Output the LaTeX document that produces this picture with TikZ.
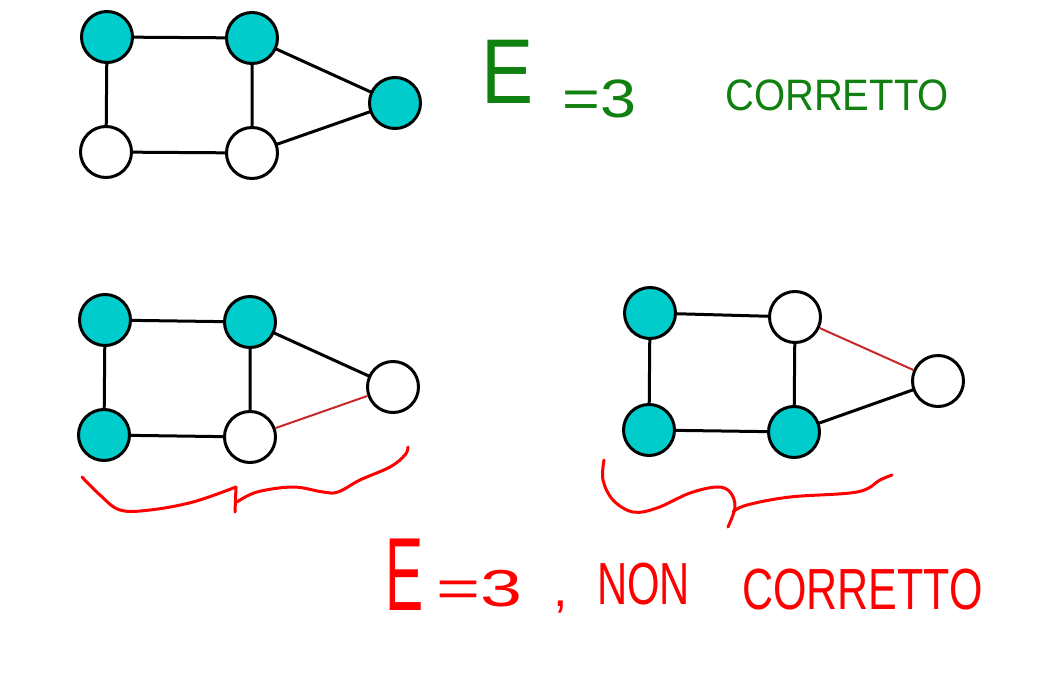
\documentclass[tikz,border=0pt]{standalone}
\usepackage{fontspec}
\setmainfont{Liberation Sans}
\definecolor{cyanfill}{RGB}{0,204,204}
\definecolor{hgreen}{RGB}{16,128,16}
\definecolor{hred}{RGB}{255,0,0}
\definecolor{edgered}{RGB}{200,40,40}
\begin{document}
\begin{tikzpicture}[x=1pt,y=-1pt,
  vtx/.style={circle,draw=black,line width=3pt,minimum size=51pt,inner sep=0pt,fill=white},
  col/.style={vtx,fill=cyanfill},
  edge/.style={draw=black,line width=3pt},
  redge/.style={draw=edgered,line width=2pt},
  brace/.style={draw=hred,line width=3pt,line cap=round,line join=round},
  hw/.style={inner sep=0pt,anchor=base west,transform shape}]
\useasboundingbox (0,0) rectangle (1047,674);
% top graph
\path (107,37) coordinate (a1) (252,38) coordinate (b1) (395,103) coordinate (c1)
      (106,152) coordinate (d1) (252,153) coordinate (e1);
\draw[edge] (a1) -- (b1) (a1) -- (d1) (b1) -- (e1) (b1) -- (c1) (d1) -- (e1) (e1) -- (c1);
\node[col] (A1) at (a1) {};
\node[col] (B1) at (b1) {};
\node[col] (C1) at (c1) {};
\node[vtx] (D1) at (d1) {};
\node[vtx] (E1) at (e1) {};
% bottom left graph
\path (105,320) coordinate (a2) (250,322) coordinate (b2) (393,387) coordinate (c2)
      (104,435) coordinate (d2) (250,437) coordinate (e2);
\draw[edge] (a2) -- (b2) (a2) -- (d2) (b2) -- (e2) (b2) -- (c2) (d2) -- (e2);
\node[col] (A2) at (a2) {};
\node[col] (B2) at (b2) {};
\node[vtx] (C2) at (c2) {};
\node[col] (D2) at (d2) {};
\node[vtx] (E2) at (e2) {};
\draw[redge] (E2) -- (C2);
% bottom right graph
\path (650,313) coordinate (a3) (795,317) coordinate (b3) (938,381) coordinate (c3)
      (649,430) coordinate (d3) (794,432) coordinate (e3);
\draw[edge] (a3) -- (b3) (a3) -- (d3) (b3) -- (e3) (d3) -- (e3) (e3) -- (c3);
\node[col] (A3) at (a3) {};
\node[vtx] (B3) at (b3) {};
\node[vtx] (C3) at (c3) {};
\node[col] (D3) at (d3) {};
\node[col] (E3) at (e3) {};
\draw[redge] (B3) -- (C3);
% braces
\draw[brace] plot[smooth,tension=0.6] coordinates {(82,477) (100,495) (120,510) (150,510) (193,502) (236,487)};
\draw[brace] (236,487) -- (235,512);
\draw[brace] plot[smooth,tension=0.6] coordinates {(237,502) (257,492) (293,487) (323,492) (338,492) (360,480) (390,467) (405,455) (408,447)};
\draw[brace] plot[smooth,tension=0.6] coordinates {(604,460) (603,480) (613,500) (633,512) (657,508) (690,493) (717,487) (730,492) (735,507) (728,527)};
\draw[brace] plot[smooth,tension=0.6] coordinates {(733,512) (747,505) (790,497) (857,492) (880,480) (892,475)};
% green text
\node[hw,text=hgreen,font=\fontsize{92}{92}\selectfont,xscale=0.85] (gE) at (481,104) {E};
\node[hw,text=hgreen,font=\fontsize{54}{54}\selectfont,xscale=1.2] (geq) at (562,118) {=3};
\node[hw,text=hgreen,font=\fontsize{40}{40}\selectfont,yscale=1.1] (gcor) at (725,111) {CORRETTO};
% red text
\node[hw,text=hred,font=\fontsize{104}{104}\selectfont,xscale=0.55] (rE) at (385,610) {E};
\node[hw,text=hred,font=\fontsize{52}{52}\selectfont,xscale=1.45] (req) at (436,606) {=3};
\node[hw,text=hred,font=\fontsize{52}{52}\selectfont] (rcomma) at (553,606) {,};
\node[hw,text=hred,font=\fontsize{44}{44}\selectfont,yscale=1.35,xscale=0.95] (rnon) at (597,604) {NON};
\node[hw,text=hred,font=\fontsize{43}{43}\selectfont,yscale=1.35] (rcor) at (742,609) {CORRETTO};
\end{tikzpicture}
\end{document}
